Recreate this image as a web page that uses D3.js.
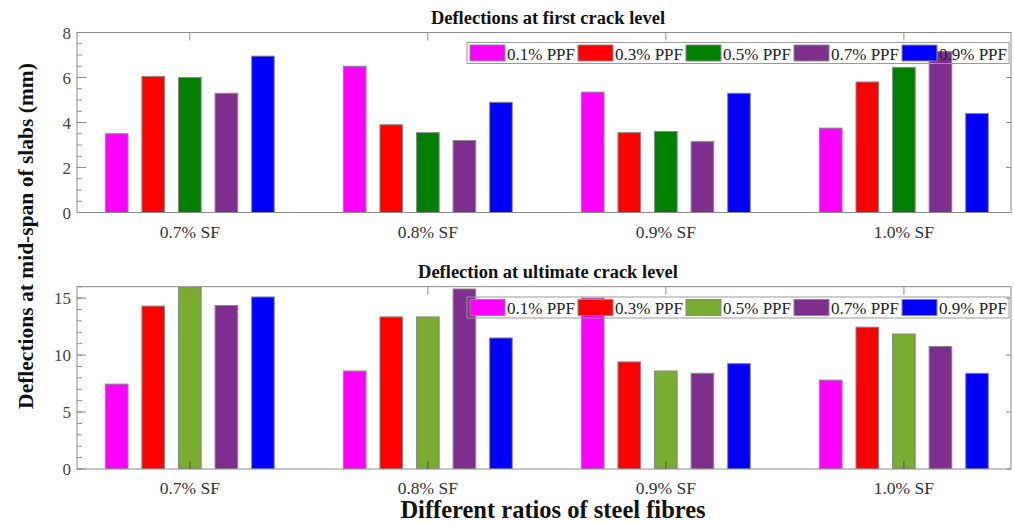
<!DOCTYPE html>
<html>
<head>
<meta charset="utf-8">
<script src="https://cdn.jsdelivr.net/npm/d3@7"></script>
<style>
  body { margin: 0; background: #fff; }
  svg text { font-family: "Liberation Serif", "Times New Roman", serif; }
</style>
</head>
<body>
<svg id="chart" width="1014" height="524"></svg>
<script>
// categories and series
const categories = ["0.7% SF", "0.8% SF", "0.9% SF", "1.0% SF"];
const series = ["0.1% PPF", "0.3% PPF", "0.5% PPF", "0.7% PPF", "0.9% PPF"];

// deflection at first crack level (mm), rows = categories, cols = series
const firstCrack = [
  [3.5, 6.05, 6.0, 5.3, 6.95],
  [6.5, 3.9, 3.55, 3.2, 4.9],
  [5.35, 3.55, 3.6, 3.15, 5.3],
  [3.75, 5.8, 6.45, 7.15, 4.4]
];
// deflection at ultimate crack level (mm)
const ultimateCrack = [
  [7.45, 14.3, 16.2, 14.35, 15.1],
  [8.6, 13.35, 13.35, 15.8, 11.5],
  [15.0, 9.4, 8.6, 8.4, 9.25],
  [7.8, 12.45, 11.85, 10.75, 8.4]
];

const topColors = ["#ff00ff", "#ff0000", "#008000", "#7e2f8e", "#0000ff"];
const bottomColors = ["#ff00ff", "#ff0000", "#77ac30", "#7e2f8e", "#0000ff"];

const svg = d3.select("#chart");
const left = 77, right = 1011;

// group centres sit at 1..4
const x0 = d3.scaleLinear().domain([0.526, 4.45]).range([left, right]);
const groupStep = x0(2) - x0(1);
const x1 = d3.scaleBand()
  .domain(series)
  .range([-0.768 * groupStep / 2, 0.768 * groupStep / 2])
  .paddingInner(0.38)
  .paddingOuter(0.19);

function drawPanel(cfg) {
  const g = svg.append("g");
  const y = d3.scaleLinear().domain([0, cfg.ymax]).range([cfg.bottom, cfg.top]);

  const clipId = "clip" + cfg.id;
  svg.append("clipPath").attr("id", clipId)
    .append("rect")
    .attr("x", left).attr("y", cfg.top)
    .attr("width", right - left).attr("height", cfg.bottom - cfg.top);

  // bars
  const bars = g.append("g").attr("clip-path", `url(#${clipId})`);
  bars.selectAll("g")
    .data(cfg.data)
    .join("g")
    .attr("transform", (d, i) => `translate(${x0(i + 1)},0)`)
    .selectAll("rect")
    .data(d => d.map((v, j) => ({ v: v, s: series[j], j: j })))
    .join("rect")
    .attr("x", d => x1(d.s))
    .attr("width", x1.bandwidth())
    .attr("y", d => y(d.v))
    .attr("height", d => y(0) - y(d.v))
    .attr("fill", d => cfg.colors[d.j])
    .attr("stroke", "#8a8a8a")
    .attr("stroke-width", 1);

  // axes box
  const gray = "#8c8c8c";
  g.append("rect")
    .attr("x", left).attr("y", cfg.top)
    .attr("width", right - left).attr("height", cfg.bottom - cfg.top)
    .attr("fill", "none").attr("stroke", gray);

  // y ticks: major + minor, inward, both sides
  const minor = d3.range(0, cfg.ymax + 1e-9, cfg.minorStep);
  g.append("g").selectAll("line")
    .data(minor)
    .join("line")
    .attr("x1", left).attr("x2", left + 5)
    .attr("y1", d => y(d)).attr("y2", d => y(d))
    .attr("stroke", gray);
  g.append("g").selectAll("line")
    .data(cfg.ticks)
    .join("line")
    .attr("x1", left).attr("x2", left + 9)
    .attr("y1", d => y(d)).attr("y2", d => y(d))
    .attr("stroke", gray);
  g.append("g").selectAll("line")
    .data(cfg.ticks)
    .join("line")
    .attr("x1", right).attr("x2", right - 5)
    .attr("y1", d => y(d)).attr("y2", d => y(d))
    .attr("stroke", gray);
  g.append("g").selectAll("text")
    .data(cfg.ticks)
    .join("text")
    .attr("x", left - 6)
    .attr("y", d => y(d) + 6)
    .attr("text-anchor", "end")
    .attr("font-size", 17)
    .attr("fill", "#444")
    .text(d => d);

  // x ticks at group centres, top and bottom
  g.append("g").selectAll("line")
    .data(categories)
    .join("line")
    .attr("x1", (d, i) => x0(i + 1)).attr("x2", (d, i) => x0(i + 1))
    .attr("y1", cfg.bottom).attr("y2", cfg.bottom - 8)
    .attr("stroke", "#555");
  g.append("g").selectAll("line")
    .data(categories)
    .join("line")
    .attr("x1", (d, i) => x0(i + 1)).attr("x2", (d, i) => x0(i + 1))
    .attr("y1", cfg.top).attr("y2", cfg.top + 8)
    .attr("stroke", gray);
  g.append("g").selectAll("text")
    .data(categories)
    .join("text")
    .attr("x", (d, i) => x0(i + 1))
    .attr("y", cfg.bottom + 25)
    .attr("text-anchor", "middle")
    .attr("font-size", 17.5)
    .attr("fill", "#333")
    .text(d => d);

  // title
  g.append("text")
    .attr("x", 548)
    .attr("y", cfg.top - 9)
    .attr("text-anchor", "middle")
    .attr("font-size", 18.5)
    .attr("font-weight", "bold")
    .attr("fill", "#111")
    .text(cfg.title);

  // legend
  const lg = g.append("g").attr("transform", `translate(467,${cfg.legendY})`);
  lg.append("rect")
    .attr("width", 542).attr("height", 21)
    .attr("fill", "none")
    .attr("stroke", "#9a9a9a");
  const item = lg.selectAll("g.item")
    .data(series)
    .join("g")
    .attr("class", "item")
    .attr("transform", (d, i) => `translate(${3 + i * 108},2.5)`);
  item.append("rect")
    .attr("width", 35).attr("height", 16)
    .attr("fill", (d, i) => cfg.colors[i])
    .attr("stroke", "#8a8a8a");
  item.append("text")
    .attr("x", 37).attr("y", 14.5)
    .attr("font-size", 17)
    .attr("fill", "#222")
    .text(d => d);
}

drawPanel({
  id: "a", data: firstCrack, colors: topColors, ymax: 8,
  ticks: [0, 2, 4, 6, 8], minorStep: 0.5,
  top: 32.5, bottom: 212.5, legendY: 42.5,
  title: "Deflections at first crack level"
});
drawPanel({
  id: "b", data: ultimateCrack, colors: bottomColors, ymax: 16,
  ticks: [0, 5, 10, 15], minorStep: 1,
  top: 286.7, bottom: 469, legendY: 297,
  title: "Deflection at ultimate crack level"
});

// axis titles
svg.append("text")
  .attr("x", 553).attr("y", 518)
  .attr("text-anchor", "middle")
  .attr("font-size", 24.5)
  .attr("font-weight", "bold")
  .attr("fill", "#111")
  .text("Different ratios of steel fibres");
svg.append("text")
  .attr("transform", "translate(33,236) rotate(-90)")
  .attr("text-anchor", "middle")
  .attr("font-size", 21.5)
  .attr("font-weight", "bold")
  .attr("fill", "#111")
  .text("Deflections at mid-span of slabs (mm)");
</script>
</body>
</html>
